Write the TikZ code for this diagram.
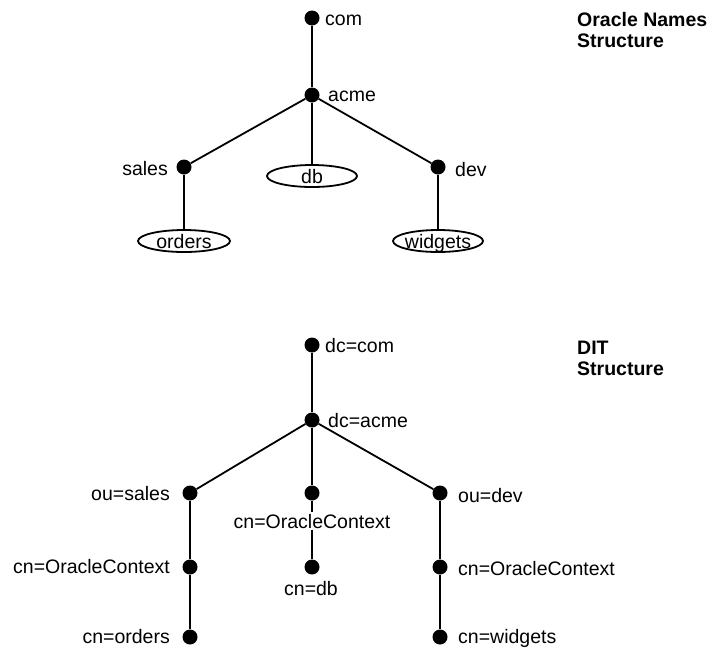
\documentclass[tikz,border=0pt]{standalone}
\usepackage{fontspec}
\setmainfont{Liberation Sans}
\begin{document}
\begin{tikzpicture}[x=1pt,y=-1pt,
  dotnode/.style={circle,fill=black,inner sep=0pt,minimum size=15pt},
  lbl/.style={inner sep=0pt,font=\fontsize{19.5}{22}\selectfont},
  oval/.style={line width=1.8pt,x radius=45pt,y radius=11pt},
  conn/.style={line width=1.8pt},
  title/.style={inner sep=0pt,align=left,font=\fontsize{19.5}{20.5}\selectfont\bfseries}]
\useasboundingbox (0,0) rectangle (711,649);
% ---- top tree
\node[dotnode] (com) at (312,18) {};
\node[dotnode] (acme) at (312,95) {};
\node[dotnode] (sales) at (184,167) {};
\node[dotnode] (dev) at (438,167) {};
\node[lbl,anchor=base] (db) at (312,183) {db};
\node[lbl,anchor=base] (orders) at (184,248) {orders};
\node[lbl,anchor=base] (widgets) at (438,248) {widgets};
\draw[oval] (312,176) ellipse [];
\draw[oval,x radius=46pt] (184,241) ellipse [];
\draw[oval] (438,241) ellipse [];
\coordinate (dbtop) at (312,165);
\coordinate (orderstop) at (184,230);
\coordinate (widgetstop) at (438,230);
\draw[conn] (com) -- (acme);
\draw[conn] (acme) -- (sales);
\draw[conn] (acme) -- (dbtop);
\draw[conn] (acme) -- (dev);
\draw[conn] (sales) -- (orderstop);
\draw[conn] (dev) -- (widgetstop);
\node[lbl,anchor=base west] (lcom) at (325,25) {com};
\node[lbl,anchor=base west] (lacme) at (328,101) {acme};
\node[lbl,anchor=base east] (lsales) at (168,175) {sales};
\node[lbl,anchor=base west] (ldev) at (455,176) {dev};
\node[title,anchor=base west] (t1) at (577,47) {Oracle Names\\Structure};
% ---- bottom tree
\node[dotnode] (dccom) at (312,345) {};
\node[dotnode] (dcacme) at (312,420) {};
\node[dotnode] (ousales) at (190,493) {};
\node[dotnode] (midoc) at (312,493) {};
\node[dotnode] (oudev) at (440,493) {};
\node[dotnode] (loc) at (190,567) {};
\node[dotnode] (cndb) at (312,567) {};
\node[dotnode] (roc) at (440,567) {};
\node[dotnode] (cnorders) at (190,637) {};
\node[dotnode] (cnwidgets) at (440,637) {};
\draw[conn] (dccom) -- (dcacme);
\draw[conn] (dcacme) -- (ousales);
\draw[conn] (dcacme) -- (midoc);
\draw[conn] (dcacme) -- (oudev);
\draw[conn] (midoc) -- (cndb);
\draw[conn] (ousales) -- (loc) -- (cnorders);
\draw[conn] (oudev) -- (roc) -- (cnwidgets);
\node[lbl,anchor=base west] (ldccom) at (325,352) {dc=com};
\node[lbl,anchor=base west] (ldcacme) at (328,427) {dc=acme};
\node[lbl,anchor=base east] (lousales) at (170,500) {ou=sales};
\node[lbl,anchor=base,fill=white,inner sep=2pt] (lmidoc) at (312,528) {cn=OracleContext};
\node[lbl,anchor=base west] (loudev) at (458,502) {ou=dev};
\node[lbl,anchor=base east] (lloc) at (170,573) {cn=OracleContext};
\node[lbl,anchor=base] (lcndb) at (311,595) {cn=db};
\node[lbl,anchor=base west] (lroc) at (458,575) {cn=OracleContext};
\node[lbl,anchor=base east] (lcnorders) at (170,643) {cn=orders};
\node[lbl,anchor=base west] (lcnwidgets) at (458,643) {cn=widgets};
\node[title,anchor=base west] (t2) at (577,375) {DIT\\Structure};
\end{tikzpicture}
\end{document}
